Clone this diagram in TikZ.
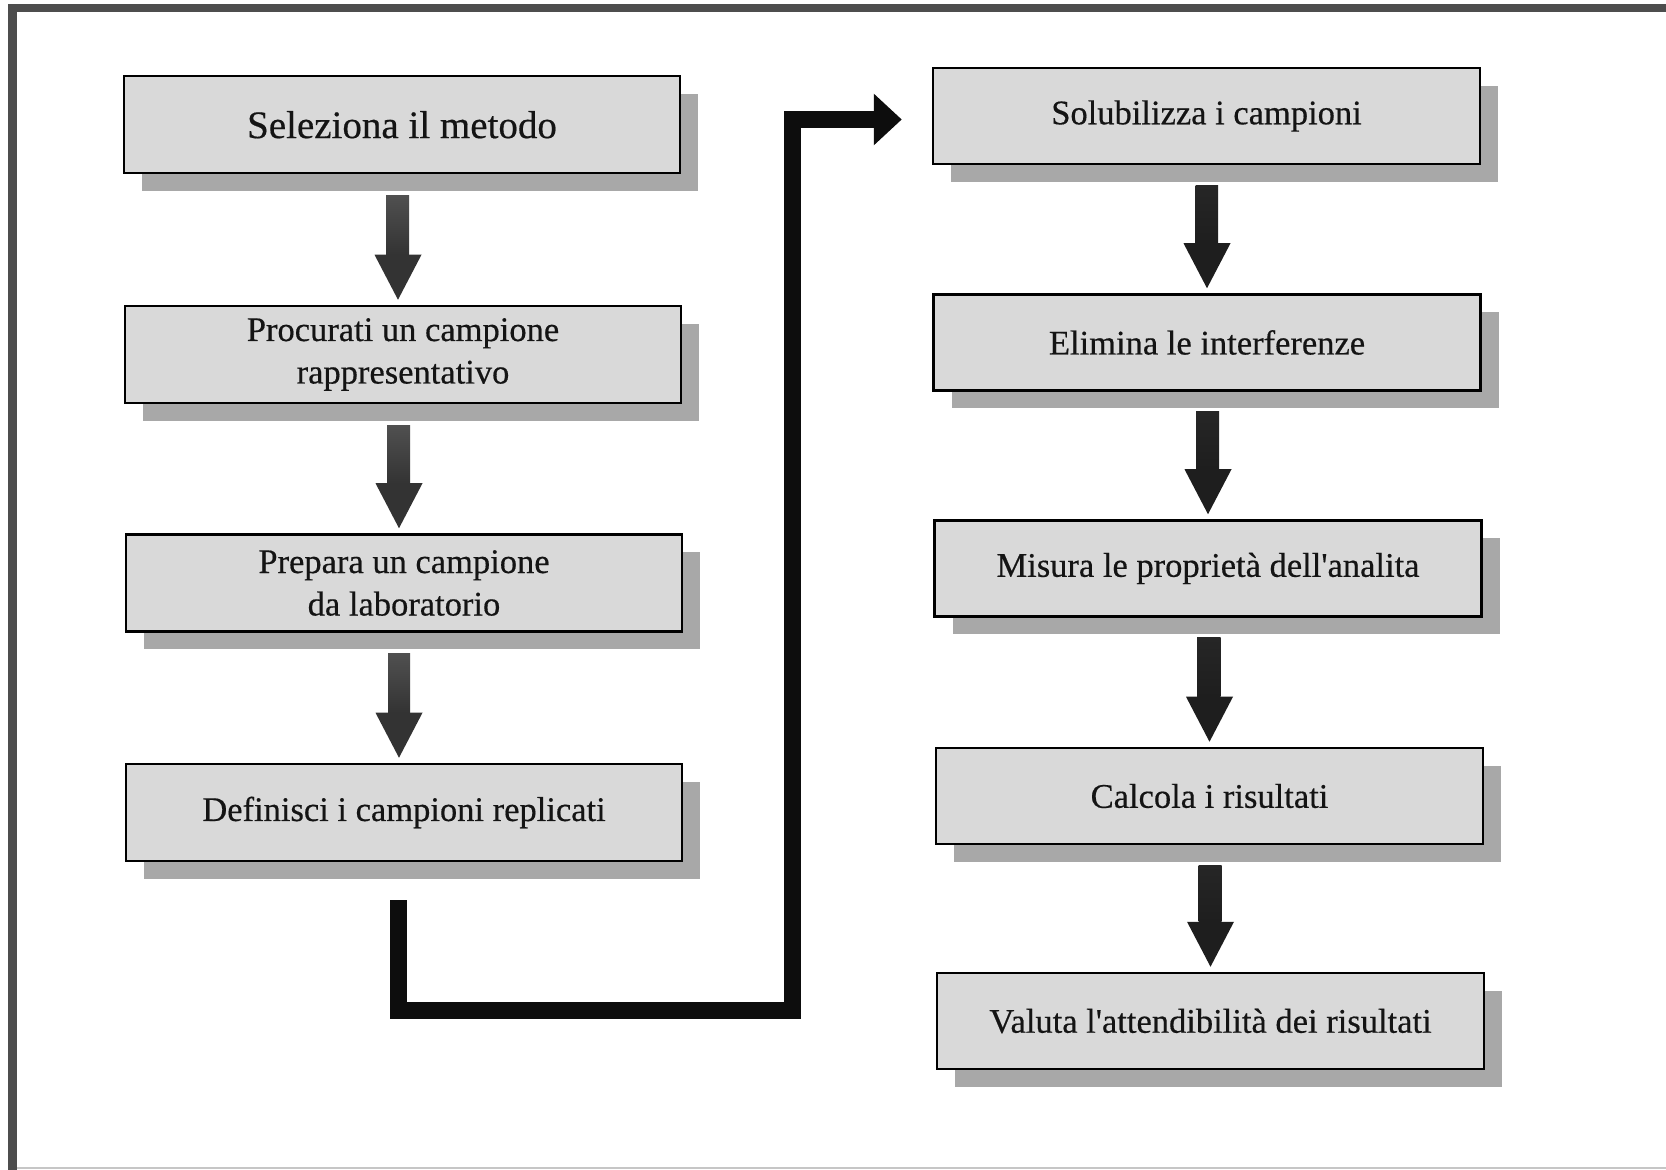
\documentclass[tikz,border=0pt]{standalone}
\usepackage{fontspec}
\setmainfont[FakeBold=0.45]{Liberation Serif}
\usetikzlibrary{arrows.meta,calc,shadows}
\definecolor{boxfill}{HTML}{D9D9D9}
\definecolor{shadowc}{HTML}{A8A8A8}
\definecolor{framec}{HTML}{4D4D4D}
\definecolor{shafttop}{HTML}{505050}
\definecolor{shaftbot}{HTML}{333333}
\definecolor{headc}{HTML}{2A2A2A}
\definecolor{rshaft}{HTML}{262626}
\definecolor{rhead}{HTML}{1E1E1E}
\newcommand{\flowarrow}[4]{%
  \shade[top color=#3, bottom color=#4] ($(#1)+(-5.5pt,0)$) rectangle ($(#2)+(5.5pt,22.5pt)$);
  \fill[#4] ($(#2)+(-11.75pt,22.5pt)$) -- (#2) -- ($(#2)+(11.75pt,22.5pt)$) -- cycle;
}
\begin{document}
\begin{tikzpicture}[x=0.5pt,y=-0.5pt,
  stepbox/.style={draw=black, line width=1.25pt, fill=boxfill,
    minimum width=278pt, minimum height=48.5pt, inner sep=0pt, align=center,
    text=black!92, font=\fontsize{17.25pt}{21.25pt}\selectfont,
    drop shadow={shadow xshift=9pt, shadow yshift=-9pt, fill=shadowc, opacity=1}},
  rbox/.style={stepbox, minimum width=273.5pt, minimum height=48pt},
  bigline/.style={line width=8.5pt, draw=black!95, line join=miter,
    -{Triangle[width=25pt,length=14pt]}}
]
\useasboundingbox (0,0) rectangle (1666,1170);
% frame
\fill[white] (0,0) rectangle (1666,1170);
\fill[framec] (8,4) rectangle (1666,12);
\fill[framec] (8,4) rectangle (17,1170);
\fill[gray!45] (17,1166.5) rectangle (1666,1168.5);

% left column
\node[stepbox, font=\fontsize{19.5pt}{23pt}\selectfont] (b1) at (402,124.75) {Seleziona il metodo};
\node[stepbox] (b2) at (403,354.5) {Procurati un campione\\rappresentativo};
\node[stepbox] (b3) at (404,583) {Prepara un campione\\da laboratorio};
\node[stepbox] (b4) at (404,812.5) {Definisci i campioni replicati};
% right column
\node[rbox] (b5) at (1206.5,116) {Solubilizza i campioni};
\node[rbox] (b6) at (1207,342.5) {Elimina le interferenze};
\node[rbox] (b7) at (1208,568.5) {Misura le propriet\`a dell\textquotesingle analita};
\node[rbox] (b8) at (1209.5,796) {Calcola i risultati};
\node[rbox] (b9) at (1210.5,1021) {Valuta l\textquotesingle attendibilit\`a dei risultati};

% small arrows, left
\coordinate (s1) at ([xshift=-2.5pt,yshift=-10.5pt]b1.south);
\coordinate (t1) at ([xshift=-2.5pt,yshift=2.5pt]b2.north);
\coordinate (s2) at ([xshift=-2.5pt,yshift=-10.5pt]b2.south);
\coordinate (t2) at ([xshift=-2.5pt,yshift=2.5pt]b3.north);
\coordinate (s3) at ([xshift=-2.5pt,yshift=-10.5pt]b3.south);
\coordinate (t3) at ([xshift=-2.5pt,yshift=2.5pt]b4.north);
\flowarrow{s1}{t1}{shafttop}{shaftbot}
\flowarrow{s2}{t2}{shafttop}{shaftbot}
\flowarrow{s3}{t3}{shafttop}{shaftbot}
% small arrows, right
\coordinate (s5) at ([yshift=-10pt]b5.south);
\coordinate (t5) at ([yshift=2.5pt]b6.north);
\coordinate (s6) at ([yshift=-10pt]b6.south);
\coordinate (t6) at ([yshift=2.5pt]b7.north);
\coordinate (s7) at ([yshift=-10pt]b7.south);
\coordinate (t7) at ([yshift=2.5pt]b8.north);
\coordinate (s8) at ([yshift=-10pt]b8.south);
\coordinate (t8) at ([yshift=2.5pt]b9.north);
\flowarrow{s5}{t5}{rshaft}{rhead}
\flowarrow{s6}{t6}{rshaft}{rhead}
\flowarrow{s7}{t7}{rshaft}{rhead}
\flowarrow{s8}{t8}{rshaft}{rhead}

% big connector
\coordinate (k1) at (792.5,1010);
\draw[bigline] ([xshift=-2.75pt,yshift=-19pt]b4.south) |- (k1) |- ([xshift=-15pt,yshift=-1.75pt]b5.west);
\end{tikzpicture}
\end{document}
